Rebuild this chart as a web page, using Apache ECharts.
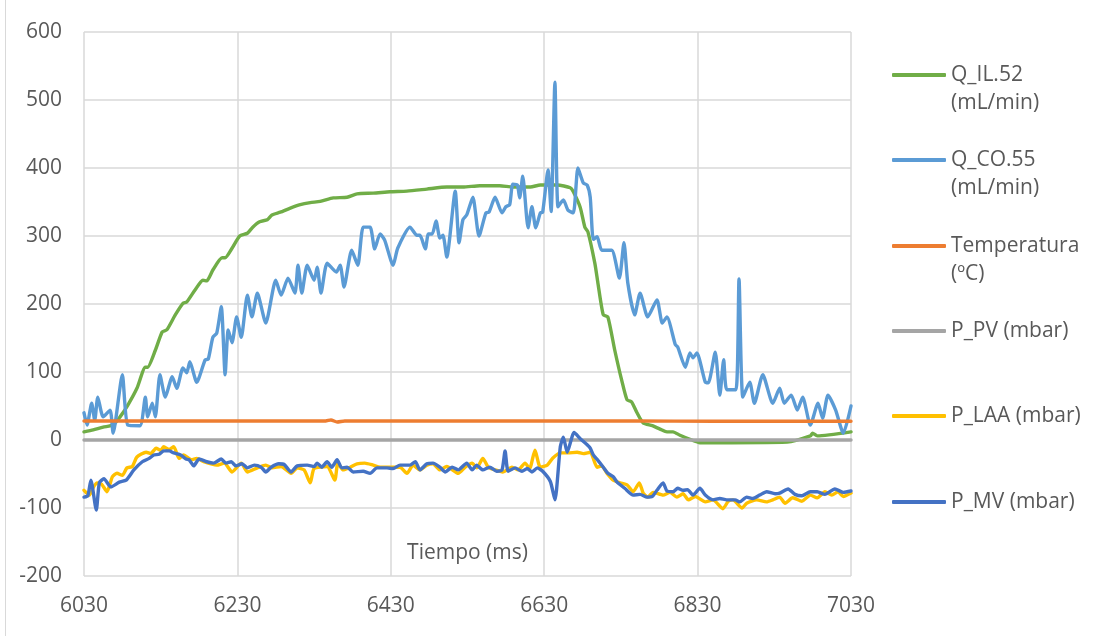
<!DOCTYPE html>
<html>
<head>
<meta charset="utf-8">
<script src="https://cdn.jsdelivr.net/npm/echarts@6/dist/echarts.min.js"></script>
<style>
html,body{margin:0;padding:0;background:#fff;}
#c{width:1101px;height:636px;}
</style>
</head>
<body>
<div id="c"></div>
<script>
// Tick settings
const xMin = 6030, xMax = 7030, xStep = 200;
const yMin = -200, yMax = 600, yStep = 100;

// Series names
const names = ['Q_IL.52 (mL/min)', 'Q_CO.55 (mL/min)', 'Temperatura (ºC)', 'P_PV (mbar)', 'P_LAA (mbar)', 'P_MV (mbar)'];

// Q_IL.52 (mL/min)
const qilT = [6030,6042,6055,6068,6077,6087,6099,6110,6113,6123,6132,6138,6149,6159,6164,6175,6185,6190,6198,6210,6214,6223,6233,6243,6250,6259,6269,6275,6286,6299,6312,6325,6338,6355,6373,6386,6407,6429,6451,6477,6503,6524,6546,6572,6589,6612,6625,6647,6664,6668,6677,6683,6687,6696,6700,6707,6713,6722,6731,6738,6744,6751,6759,6771,6781,6790,6798,6807,6820,6833,6947,6977,6980,6986,7030];
const qilV = [12,15,19,22,34,51,76,107,107,132,159,162,184,201,203,221,235,234,250,268,268,282,300,304,313,321,324,331,335,341,346,349,351,356,357,362,363,365,366,369,372,372,374,374,372,372,375,375,371,365,342,313,306,260,231,184,181,132,88,59,56,40,25,21,16,12,12,7,1,-4,-3,6,10,6,12];

// Q_CO.55 (mL/min)
const qcoT = [6030,6034,6040,6044,6048,6055,6064,6068,6080,6087,6103,6110,6113,6119,6123,6129,6136,6145,6151,6159,6164,6168,6177,6188,6192,6198,6203,6209,6214,6218,6223,6229,6235,6243,6249,6256,6267,6280,6287,6296,6305,6309,6314,6321,6330,6334,6339,6347,6359,6364,6369,6379,6387,6394,6403,6409,6416,6422,6433,6439,6455,6464,6468,6475,6479,6484,6489,6494,6498,6503,6514,6519,6524,6529,6537,6545,6554,6558,6566,6575,6580,6585,6589,6595,6598,6602,6609,6614,6619,6625,6628,6635,6639,6644,6648,6655,6661,6668,6674,6681,6686,6690,6694,6699,6705,6718,6728,6734,6739,6748,6755,6765,6777,6784,6790,6801,6804,6814,6820,6824,6829,6840,6844,6853,6859,6864,6868,6880,6884,6889,6898,6904,6915,6928,6937,6943,6952,6960,6967,6977,6987,6993,7000,7010,7020,7030];
const qcoV = [40,22,54,29,63,34,44,10,96,22,21,63,34,54,34,96,63,93,76,106,99,115,85,118,119,151,157,196,96,162,143,181,151,213,181,216,172,235,213,238,216,257,216,257,235,254,216,260,247,257,225,279,257,313,313,281,303,294,257,282,313,301,301,281,303,303,322,297,301,269,366,290,324,331,357,300,334,335,357,334,343,346,376,375,356,388,312,343,312,334,335,397,336,526,343,353,338,334,400,378,375,357,295,299,279,279,238,290,231,184,216,181,206,172,181,140,137,107,128,121,128,85,84,129,66,118,74,74,237,63,85,54,96,54,76,54,66,44,63,22,54,32,66,44,10,50];

// Temperatura (ºC)
const tempT = [6030,6100,6200,6300,6345,6352,6360,6370,6450,6550,6650,6750,6850,6950,7030];
const tempV = [28,28,28,28,28,29.5,26.5,28,28,28,28,28,27.5,27.5,27.5];

// P_PV (mbar)
const pvT = [6030,6530,7030];
const pvV = [0,0,0];

// P_LAA (mbar)
const laaT = [6030,6037,6042,6047,6053,6060,6067,6073,6080,6086,6093,6099,6111,6117,6124,6130,6134,6141,6147,6154,6160,6170,6177,6186,6203,6213,6223,6235,6243,6256,6267,6275,6287,6300,6308,6317,6325,6330,6347,6357,6361,6368,6377,6386,6396,6407,6416,6427,6442,6451,6459,6468,6477,6485,6494,6503,6518,6527,6536,6542,6550,6557,6566,6576,6588,6596,6605,6611,6618,6625,6634,6641,6651,6661,6673,6681,6690,6699,6705,6712,6720,6729,6738,6746,6754,6759,6765,6772,6785,6794,6803,6811,6818,6827,6840,6850,6863,6870,6876,6888,6894,6907,6920,6928,6937,6944,6954,6966,6977,6986,6996,7005,7013,7020,7030];
const laaV = [-74,-81,-70,-63,-65,-76,-54,-49,-52,-41,-39,-25,-18,-20,-12,-15,-10,-14,-10,-27,-22,-29,-27,-32,-37,-34,-47,-34,-47,-41,-37,-41,-39,-49,-41,-44,-63,-42,-39,-59,-34,-44,-40,-35,-34,-37,-40,-40,-40,-49,-37,-44,-37,-35,-44,-39,-49,-40,-34,-41,-27,-40,-44,-47,-40,-44,-34,-42,-15,-40,-37,-27,-19,-19,-18,-20,-18,-40,-38,-49,-59,-63,-66,-76,-63,-78,-84,-77,-81,-77,-84,-79,-88,-83,-91,-88,-101,-90,-88,-100,-93,-88,-91,-88,-84,-93,-85,-90,-81,-85,-76,-81,-76,-83,-78];

// P_MV (mbar)
const mvT = [6030,6035,6039,6046,6050,6056,6065,6076,6085,6095,6106,6115,6121,6128,6134,6141,6147,6156,6163,6167,6173,6180,6190,6199,6209,6215,6222,6228,6236,6243,6252,6261,6267,6274,6284,6291,6300,6308,6321,6330,6334,6340,6347,6353,6360,6366,6373,6381,6394,6403,6412,6425,6433,6442,6455,6462,6468,6477,6485,6494,6501,6510,6518,6529,6536,6542,6550,6559,6568,6575,6579,6583,6592,6601,6608,6614,6621,6628,6638,6644,6651,6655,6660,6669,6677,6686,6690,6694,6700,6707,6713,6720,6725,6735,6746,6755,6764,6771,6777,6785,6790,6798,6804,6811,6817,6824,6833,6840,6850,6859,6868,6879,6885,6894,6902,6911,6920,6931,6937,6948,6957,6966,6977,6986,6996,7009,7020,7030];
const mvV = [-84,-82,-59,-103,-63,-57,-69,-62,-59,-44,-32,-27,-22,-21,-16,-16,-19,-22,-28,-29,-38,-28,-32,-34,-28,-34,-32,-38,-35,-41,-37,-40,-47,-40,-35,-36,-47,-38,-37,-39,-34,-40,-32,-40,-29,-41,-40,-47,-46,-49,-41,-41,-42,-37,-37,-32,-44,-35,-34,-40,-47,-40,-44,-34,-44,-37,-44,-40,-46,-44,-16,-46,-41,-46,-42,-47,-41,-46,-61,-88,-10,4,-18,11,2,-7,-12,-22,-30,-40,-49,-54,-62,-71,-81,-80,-84,-83,-74,-63,-75,-76,-71,-74,-73,-81,-71,-81,-88,-86,-88,-88,-91,-84,-86,-81,-76,-79,-78,-72,-80,-82,-76,-76,-80,-72,-77,-75];

const colors = ['#70AD47', '#5B9BD5', '#ED7D31', '#A5A5A5', '#FFC000', '#4472C4'];
const seriesT = [qilT, qcoT, tempT, pvT, laaT, mvT];
const seriesV = [qilV, qcoV, tempV, pvV, laaV, mvV];

const FONT = '"Open Sans", "Noto Sans", sans-serif';
const TXT = '#595959';

function pairs(t, v) { return t.map((x, i) => [x, v[i]]); }

// two-line legend labels: a blank line on top keeps the first line level with the key
const legendLabels = {
  'Q_IL.52 (mL/min)': '\u00a0\nQ_IL.52\n(mL/min)',
  'Q_CO.55 (mL/min)': '\u00a0\nQ_CO.55\n(mL/min)',
  'Temperatura (ºC)': '\u00a0\nTemperatura\n(ºC)'
};
const legendY = [75, 160, 246, 331, 416, 502];
const LH = 28;

const legends = names.map((n, i) => {
  const two = !!legendLabels[n];
  return {
    data: [{ name: n, icon: 'roundRect' }],
    orient: 'vertical',
    left: 892,
    top: legendY[i] - (two ? LH * 1.5 : LH / 2),
    padding: 0,
    itemWidth: 54,
    itemHeight: 4,
    selectedMode: false,
    formatter: (name) => legendLabels[name] || name,
    textStyle: { fontFamily: FONT, fontSize: 21, color: TXT, lineHeight: LH }
  };
});

const option = {
  animation: false,
  color: colors,
  grid: { left: 84, width: 767, top: 32, height: 544, containLabel: false },
  legend: legends,
  graphic: [{
    type: 'line',
    shape: { x1: 5.5, y1: 0, x2: 5.5, y2: 636 },
    style: { stroke: '#D9D9D9', lineWidth: 1 },
    silent: true
  }],
  xAxis: {
    type: 'value', min: xMin, max: xMax, interval: xStep,
    name: 'Tiempo (ms)', nameLocation: 'middle', nameGap: -33, nameMoveOverlap: false,
    nameTextStyle: { fontFamily: FONT, fontSize: 21, color: TXT, verticalAlign: 'top' },
    axisLine: { show: true, lineStyle: { color: '#D9D9D9', width: 1.5 } },
    axisTick: { show: false },
    axisLabel: { fontFamily: FONT, fontSize: 21, color: TXT, margin: 20, formatter: (v) => String(v) },
    splitLine: { show: true, lineStyle: { color: '#D9D9D9', width: 1.5 } }
  },
  yAxis: {
    type: 'value', min: yMin, max: yMax, interval: yStep,
    axisLine: { show: false },
    axisTick: { show: false },
    axisLabel: { fontFamily: FONT, fontSize: 21, color: TXT, margin: 22 },
    splitLine: { show: true, lineStyle: { color: '#D9D9D9', width: 1.5 } }
  },
  series: names.map((n, i) => ({
    name: n,
    type: 'line',
    data: pairs(seriesT[i], seriesV[i]),
    showSymbol: false,
    symbol: 'none',
    smooth: 0.2,
    lineStyle: { width: 3.4, color: colors[i], cap: 'round', join: 'round' },
    itemStyle: { color: colors[i] },
    z: 2 + i
  }))
};

const chart = echarts.init(document.getElementById('c'), null, { renderer: 'canvas' });
chart.setOption(option);
</script>
</body>
</html>
